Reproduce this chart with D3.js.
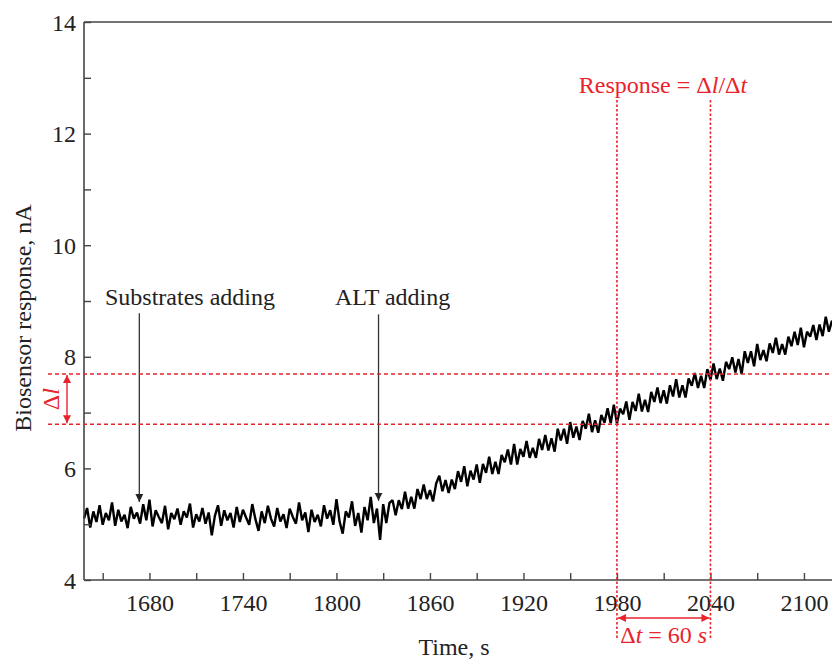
<!DOCTYPE html>
<html>
<head>
<meta charset="utf-8">
<script src="https://cdn.jsdelivr.net/npm/d3@7"></script>
<style>
  body { margin: 0; background: #fff; }
  text { font-family: "Liberation Serif", "DejaVu Serif", serif; }
</style>
</head>
<body>
<div id="chart"></div>
<script>
// ---------------  DATA  ---------------
// biosensor current, one reading every 2 s starting at t = 1638 s
const tStart = 1638;
const tStep = 2;
const baseline = [
  5.10, 5.29, 4.94, 5.23, 5.04, 5.34, 4.99, 5.20, 5.07, 5.39,
  4.97, 5.26, 5.05, 5.17, 4.93, 5.31, 5.10, 5.21, 5.01, 5.36,
  5.07, 5.44, 4.96, 5.25, 5.13, 5.02, 5.33, 4.91, 5.20, 5.09,
  5.28, 4.99, 5.23, 5.12, 5.37, 4.94, 5.18, 5.05, 5.29, 5.01,
  5.21, 4.80, 5.15, 5.34, 4.97, 5.25, 5.07, 5.20, 4.94, 5.31,
  5.04, 5.26, 5.12, 4.99, 5.36, 5.09, 4.88, 5.23, 5.02, 5.33,
  5.10, 4.96, 5.29, 5.05, 5.18, 4.93, 5.28, 5.13, 5.01, 5.39,
  5.07, 5.21, 4.86, 5.26, 5.04, 5.17, 4.96, 5.34, 5.10, 5.25,
  4.99, 5.45, 5.05, 4.83, 5.23, 5.12, 5.41, 4.97, 5.20, 4.85,
  5.31, 5.07, 5.49, 5.02
];
const altDip = [5.28, 4.72, 5.36, 5.02, 5.38];
const rise = [
  5.43, 5.16, 5.43, 5.27, 5.58, 5.28, 5.49, 5.28, 5.63, 5.45,
  5.71, 5.45, 5.61, 5.41, 5.73, 5.87, 5.59, 5.79, 5.56, 5.80,
  5.63, 5.95, 5.76, 6.04, 5.68, 5.96, 5.80, 6.07, 5.74, 6.08,
  5.92, 6.21, 5.90, 6.12, 5.90, 6.24, 6.11, 6.34, 6.07, 6.44,
  6.07, 6.35, 6.21, 6.49, 6.19, 6.37, 6.19, 6.53, 6.33, 6.60,
  6.32, 6.54, 6.30, 6.71, 6.50, 6.71, 6.44, 6.83, 6.55, 6.75,
  6.51, 6.85, 6.71, 6.98, 6.65, 6.86, 6.64, 6.96, 6.82, 7.08,
  6.81, 7.14, 6.81, 7.07, 6.97, 7.20, 6.87, 7.19, 7.03, 7.34,
  7.02, 7.23, 7.01, 7.37, 7.19, 7.45, 7.17, 7.40, 7.16, 7.49,
  7.29, 7.60, 7.27, 7.49, 7.27, 7.61, 7.48, 7.71, 7.44, 7.66,
  7.44, 7.78, 7.59, 7.88, 7.60, 7.79, 7.57, 7.91, 7.78, 7.99,
  7.72, 7.96, 7.69, 8.10, 7.89, 8.10, 7.83, 8.23, 7.94, 8.12,
  7.92, 8.24, 8.07, 8.34, 8.04, 8.23, 8.04, 8.36, 8.19, 8.45,
  8.21, 8.52, 8.17, 8.45, 8.36, 8.57, 8.30, 8.58, 8.37, 8.72,
  8.45, 8.65
];
const current = baseline.concat(altDip, rise);

const xTicks = [1680, 1740, 1800, 1860, 1920, 1980, 2040, 2100];
const xMinor = [1650, 1710, 1770, 1830, 1890, 1950, 2010, 2070];
const yTicks = [4, 6, 8, 10, 12, 14];
const yMinor = [5, 7, 9, 11, 13];

// annotations
const events = [
  {label: "Substrates adding", t: 1673.5, textT: 1706, top: 8.78, tip: 5.40},
  {label: "ALT adding", t: 1827, textT: 1836, top: 8.76, tip: 5.42}
];
const levelLow = 6.79, levelHigh = 7.69;
const tLeft = 1980, tRight = 2040;

// ---------------  SVG  ---------------
const W = 832, H = 661;
const FS = "24px";
const svg = d3.select("#chart").append("svg")
  .attr("width", W).attr("height", H);

const x = d3.scaleLinear().domain([1638, 2118]).range([84, 832]);
const y = d3.scaleLinear().domain([4, 14]).range([580, 22]);

const red = "#e8232b";
const axisCol = "#444";

const defs = svg.append("defs");
defs.append("marker").attr("id", "blackHead")
  .attr("viewBox", "0 0 10 10").attr("refX", 10).attr("refY", 5)
  .attr("markerWidth", 8).attr("markerHeight", 12).attr("markerUnits", "userSpaceOnUse")
  .attr("orient", "auto")
  .append("path").attr("d", "M0,0 L10,5 L0,10 Z").attr("fill", "#222");
defs.append("marker").attr("id", "redHead")
  .attr("viewBox", "0 0 10 10").attr("refX", 10).attr("refY", 5)
  .attr("markerWidth", 12).attr("markerHeight", 8).attr("markerUnits", "userSpaceOnUse")
  .attr("orient", "auto-start-reverse")
  .append("path").attr("d", "M0,0 L10,5 L0,10 Z").attr("fill", red);

// ---------------  TRACE  ---------------
const line = d3.line()
  .x((d, i) => x(tStart + i * tStep))
  .y(d => y(d));
svg.append("path").datum(current)
  .attr("d", line)
  .attr("fill", "none")
  .attr("stroke", "#000")
  .attr("stroke-width", 2.4)
  .attr("stroke-linejoin", "bevel");

// ---------------  AXES  ---------------
const gx = svg.append("g").attr("transform", `translate(0,${y(4)})`)
  .call(d3.axisBottom(x).tickValues(xTicks).tickSize(-7).tickPadding(14).tickFormat(d3.format("d")));
const gxm = svg.append("g").attr("transform", `translate(0,${y(4)})`)
  .call(d3.axisBottom(x).tickValues(xMinor).tickSize(-7).tickFormat(""));
gxm.select(".domain").remove();

const gy = svg.append("g").attr("transform", `translate(${x(1638)},0)`)
  .call(d3.axisLeft(y).tickValues(yTicks).tickSize(-7).tickPadding(8));
const gym = svg.append("g").attr("transform", `translate(${x(1638)},0)`)
  .call(d3.axisLeft(y).tickValues(yMinor).tickSize(-7).tickFormat(""));
gym.select(".domain").remove();

[gx, gxm, gy, gym].forEach(g => {
  g.select(".domain").attr("stroke", axisCol).attr("stroke-width", 1.6);
  g.selectAll(".tick line").attr("stroke", axisCol).attr("stroke-width", 1.4);
  g.selectAll(".tick text").attr("fill", "#222").style("font-size", FS)
    .style("font-family", '"Liberation Serif", serif');
});
gx.select(".domain").attr("d", `M${x(1638)},0H${W}`);
gy.select(".domain").attr("d", `M0,${y(4)}V${y(14)}`);
gy.selectAll(".tick text").attr("dy", "0.34em");

// top frame
svg.append("line")
  .attr("x1", x(1638)).attr("x2", W)
  .attr("y1", y(14)).attr("y2", y(14))
  .attr("stroke", axisCol).attr("stroke-width", 1.6);

// axis titles
svg.append("text")
  .attr("x", 454).attr("y", 655)
  .attr("text-anchor", "middle")
  .attr("fill", "#222").style("font-size", FS)
  .text("Time, s");
svg.append("text")
  .attr("transform", "translate(31,318) rotate(-90)")
  .attr("text-anchor", "middle")
  .attr("fill", "#222").style("font-size", FS)
  .text("Biosensor response, nA");

// ---------------  EVENTS  ---------------
events.forEach(e => {
  svg.append("text")
    .attr("x", x(e.textT)).attr("y", 305)
    .attr("text-anchor", "middle")
    .attr("fill", "#222").style("font-size", FS)
    .text(e.label);
  svg.append("line")
    .attr("x1", x(e.t)).attr("x2", x(e.t))
    .attr("y1", y(e.top)).attr("y2", y(e.tip))
    .attr("stroke", "#333").attr("stroke-width", 1.3)
    .attr("marker-end", "url(#blackHead)");
});

// ---------------  RESPONSE CONSTRUCTION  ---------------
[levelHigh, levelLow].forEach(v => {
  svg.append("line")
    .attr("x1", 48).attr("x2", W)
    .attr("y1", y(v)).attr("y2", y(v))
    .attr("stroke", red).attr("stroke-width", 1.5)
    .attr("stroke-dasharray", "4,3");
});
[tLeft, tRight].forEach(t => {
  svg.append("line")
    .attr("x1", x(t)).attr("x2", x(t))
    .attr("y1", 100).attr("y2", 640)
    .attr("stroke", red).attr("stroke-width", 1.6)
    .attr("stroke-dasharray", "2.5,2");
});

// delta I arrow
svg.append("line")
  .attr("x1", 67).attr("x2", 67)
  .attr("y1", y(levelHigh) + 1).attr("y2", y(levelLow) - 1)
  .attr("stroke", red).attr("stroke-width", 1.4)
  .attr("marker-start", "url(#redHead)").attr("marker-end", "url(#redHead)");
const dI = svg.append("text")
  .attr("transform", `translate(59,${(y(levelHigh) + y(levelLow)) / 2}) rotate(-90)`)
  .attr("text-anchor", "middle")
  .attr("fill", red).style("font-size", FS);
dI.append("tspan").text("Δ");
dI.append("tspan").attr("font-style", "italic").text("l");

// delta t arrow
svg.append("line")
  .attr("x1", x(tLeft) + 1).attr("x2", x(tRight) - 1)
  .attr("y1", 618).attr("y2", 618)
  .attr("stroke", red).attr("stroke-width", 1.4)
  .attr("marker-start", "url(#redHead)").attr("marker-end", "url(#redHead)");
const dT = svg.append("text")
  .attr("x", (x(tLeft) + x(tRight)) / 2).attr("y", 643)
  .attr("text-anchor", "middle")
  .attr("fill", red).style("font-size", FS);
dT.append("tspan").text("Δ");
dT.append("tspan").attr("font-style", "italic").text("t");
dT.append("tspan").text(" = 60 ");
dT.append("tspan").attr("font-style", "italic").text("s");

const resp = svg.append("text")
  .attr("x", 663).attr("y", 93)
  .attr("text-anchor", "middle")
  .attr("fill", red).style("font-size", FS);
resp.append("tspan").text("Response = Δ");
resp.append("tspan").attr("font-style", "italic").text("l");
resp.append("tspan").text("/Δ");
resp.append("tspan").attr("font-style", "italic").text("t");
</script>
</body>
</html>
